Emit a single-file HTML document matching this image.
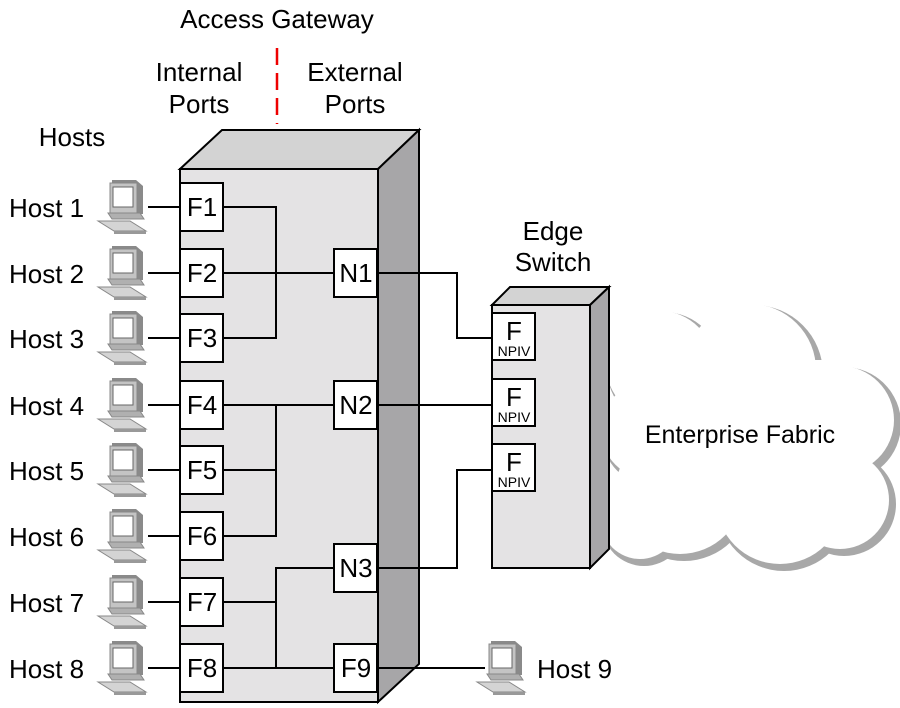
<!DOCTYPE html>
<html><head><meta charset="utf-8"><style>
html,body{margin:0;padding:0;background:#fff;}
svg{display:block;}
text{font-family:"Liberation Sans",Arial,sans-serif;fill:#000;}
</style></head><body>
<svg width="900" height="708" viewBox="0 0 900 708" xmlns="http://www.w3.org/2000/svg">
<defs>
<g id="pc">
  <path d="M14 0 L38 0 L45 6 L45 34 L14 34 Z" fill="#8a8a8a"/>
  <rect x="12" y="3" width="27" height="30" fill="#c4c4c4" stroke="#888" stroke-width="1"/>
  <rect x="15" y="7" width="20" height="20" fill="#fff" stroke="#666" stroke-width="1"/>
  <path d="M10 33 L42 33 L46 39 L14 39 Z" fill="#b0b0b0" stroke="#888" stroke-width="1"/>
  <path d="M0 41 L32 41 L48 51 L16 51 Z" fill="#d4d4d4" stroke="#888" stroke-width="1"/>
  <path d="M16 51 L48 51 L48 54 L16 54 Z" fill="#999"/>
</g>
</defs>

<!-- cloud -->
<g fill="#a8a8a8">
  <circle cx="664" cy="369" r="57"/><circle cx="754" cy="374" r="69"/>
  <circle cx="844" cy="424" r="57"/><circle cx="844" cy="504" r="52"/>
  <circle cx="784" cy="504" r="67"/><circle cx="684" cy="494" r="67"/>
  <circle cx="654" cy="434" r="52"/><circle cx="644" cy="354" r="42"/>
  <circle cx="644" cy="524" r="42"/>
</g>
<g fill="#fff">
  <circle cx="660" cy="365" r="54"/><circle cx="750" cy="370" r="66"/>
  <circle cx="840" cy="420" r="54"/><circle cx="840" cy="500" r="49"/>
  <circle cx="780" cy="500" r="64"/><circle cx="680" cy="490" r="64"/>
  <circle cx="650" cy="430" r="49"/><circle cx="640" cy="350" r="39"/>
  <circle cx="640" cy="520" r="39"/><rect x="620" y="360" width="220" height="150"/>
</g>
<text x="740" y="443" font-size="25" text-anchor="middle">Enterprise Fabric</text>

<!-- labels -->
<text x="277" y="28" font-size="26" text-anchor="middle">Access Gateway</text>
<text x="199" y="81" font-size="26" text-anchor="middle">Internal</text>
<text x="199" y="113" font-size="26" text-anchor="middle">Ports</text>
<text x="355" y="81" font-size="26" text-anchor="middle">External</text>
<text x="355" y="113" font-size="26" text-anchor="middle">Ports</text>
<text x="72" y="146" font-size="26" text-anchor="middle">Hosts</text>
<line x1="277" y1="48" x2="277" y2="124" stroke="#e00" stroke-width="2.5" stroke-dasharray="17,8"/>
<text x="553" y="240" font-size="26" text-anchor="middle">Edge</text>
<text x="553" y="271" font-size="26" text-anchor="middle">Switch</text>

<!-- main box -->
<g stroke="#000" stroke-width="2" stroke-linejoin="miter">
  <path d="M180 169 L222 130 L419 130 L378 169 Z" fill="#d3d3d3"/>
  <path d="M378 169 L419 130 L419 664 L378 702 Z" fill="#a7a6a8"/>
  <rect x="180" y="169" width="198" height="533" fill="#e4e3e4"/>
</g>
<!-- edge switch -->
<g stroke="#000" stroke-width="2">
  <path d="M492 305 L510 287 L609 287 L590 305 Z" fill="#d3d3d3"/>
  <path d="M590 305 L609 287 L609 549 L590 568 Z" fill="#a7a6a8"/>
  <rect x="492" y="305" width="98" height="263" fill="#e4e3e4"/>
</g>

<!-- connection lines -->
<g stroke="#000" stroke-width="2" fill="none">
  <path d="M223 207 H276 V338 H223"/>
  <path d="M223 273 H334"/>
  <path d="M223 405 H334"/>
  <path d="M223 470 H276"/>
  <path d="M276 405 V536 H223"/>
  <path d="M223 602 H276"/>
  <path d="M334 568 H276 V668"/>
  <path d="M223 668 H334"/>
  <path d="M378 273 H457 V338 H492"/>
  <path d="M378 405 H492"/>
  <path d="M378 568 H457 V470 H492"/>
  <path d="M378 668 H485"/>
  <path d="M148 207 H180 M148 273 H180 M148 338 H180 M148 405 H180 M148 470 H180 M148 536 H180 M148 602 H180 M148 668 H180"/>
</g>

<!-- port boxes -->
<g stroke="#000" stroke-width="2" fill="#fff">
  <rect x="180" y="183" width="43" height="48"/><rect x="180" y="249" width="43" height="48"/>
  <rect x="180" y="314" width="43" height="48"/><rect x="180" y="381" width="43" height="48"/>
  <rect x="180" y="446" width="43" height="48"/><rect x="180" y="512" width="43" height="48"/>
  <rect x="180" y="578" width="43" height="48"/><rect x="180" y="644" width="43" height="48"/>
  <rect x="334" y="249" width="43" height="48"/><rect x="334" y="381" width="43" height="48"/>
  <rect x="334" y="544" width="43" height="48"/><rect x="334" y="644" width="43" height="48"/>
  <rect x="492" y="313" width="43" height="47"/><rect x="492" y="379" width="43" height="47"/>
  <rect x="492" y="444" width="43" height="47"/>
</g>
<g font-size="26" text-anchor="middle">
  <text x="202" y="216">F1</text><text x="202" y="282">F2</text><text x="202" y="347">F3</text>
  <text x="202" y="414">F4</text><text x="202" y="479">F5</text><text x="202" y="545">F6</text>
  <text x="202" y="611">F7</text><text x="202" y="677">F8</text>
  <text x="356" y="282">N1</text><text x="356" y="414">N2</text><text x="356" y="577">N3</text>
  <text x="356" y="677">F9</text>
  <text x="514" y="340">F</text><text x="514" y="406">F</text><text x="514" y="471">F</text>
</g>
<g font-size="14" text-anchor="middle">
  <text x="514" y="356">NPIV</text><text x="514" y="422">NPIV</text><text x="514" y="487">NPIV</text>
</g>

<!-- hosts -->
<use href="#pc" x="98" y="180"/><use href="#pc" x="98" y="246"/><use href="#pc" x="98" y="311"/>
<use href="#pc" x="98" y="378"/><use href="#pc" x="98" y="443"/><use href="#pc" x="98" y="509"/>
<use href="#pc" x="98" y="575"/><use href="#pc" x="98" y="641"/>
<use href="#pc" x="477" y="641"/>
<g font-size="26">
  <text x="9" y="217">Host 1</text><text x="9" y="283">Host 2</text><text x="9" y="348">Host 3</text>
  <text x="9" y="415">Host 4</text><text x="9" y="480">Host 5</text><text x="9" y="546">Host 6</text>
  <text x="9" y="612">Host 7</text><text x="9" y="678">Host 8</text>
  <text x="537" y="678">Host 9</text>
</g>
</svg>
</body></html>
